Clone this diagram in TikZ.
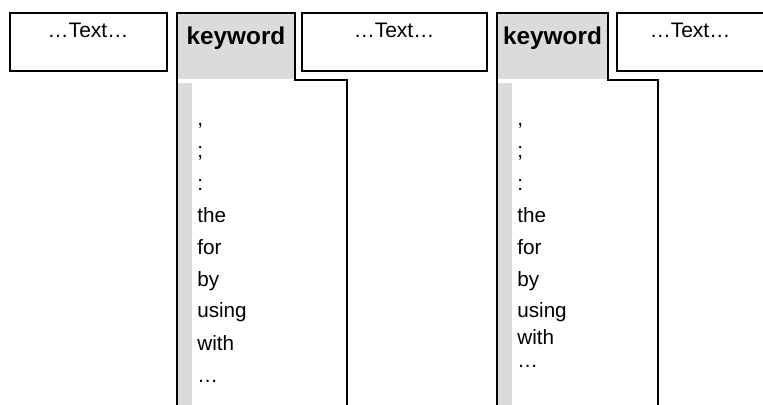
\documentclass[tikz,border=0pt]{standalone}
\usepackage{fontspec}
\setmainfont{Liberation Sans}
\usetikzlibrary{positioning}

\begin{document}
\begin{tikzpicture}[x=0.6pt,y=-0.6pt,
  frame/.style={draw, line width=1.1pt},
  shade/.style={fill=black!14},
  plain/.style={font=\fontsize{12.6}{14}\selectfont, inner sep=0pt, anchor=base},
  kw/.style={font=\fontsize{14.6}{17}\selectfont\bfseries, inner sep=0pt, anchor=base},
  word/.style={font=\fontsize{12.4}{14}\selectfont, inner sep=0pt, anchor=base west}]
\useasboundingbox (0,0) rectangle (763,405);
% text cells
\draw[frame] (10,13) rectangle (167,71);
\draw[frame] (302,13) rectangle (487,71);
\draw[frame] (763,13) -- (617,13) -- (617,71) -- (763,71);
\node[plain] (txtA) at (88,38) {…Text…};
\node[plain] (txtB) at (394,38) {…Text…};
\node[plain] (txtC) at (690,38) {…Text…};
% keyword cells with their columns
\foreach \c/\l/\r/\e in {a/177/295/347, b/497/608/658} {
  \fill[shade] (\l,13) rectangle (\r,79);
  \fill[shade] (\l,83) rectangle (\l+15,405);
  \draw[frame] (\l,405) -- (\l,13) -- (\r,13) -- (\r,80) -- (\e,80) -- (\e,405);
  \node[kw] (key\c) at ({(\l+\r)/2},45) {keyword};
  \node[word] (\c1) at (\l+20,126) {,};
  \node[word] (\c2) at (\l+20,158) {;};
  \node[word] (\c3) at (\l+20,191) {:};
  \node[word] (\c4) at (\l+20,223) {the};
  \node[word] (\c5) at (\l+20,255) {for};
  \node[word] (\c6) at (\l+20,287) {by};
  \node[word] (\c7) at (\l+20,318) {using};
}
\node[word] (a8) at (197,351) {with};
\node[word] (a9) at (197,382) {…};
\node[word] (b8) at (517,345) {with};
\node[word] (b9) at (517,368) {…};
\end{tikzpicture}
\end{document}
